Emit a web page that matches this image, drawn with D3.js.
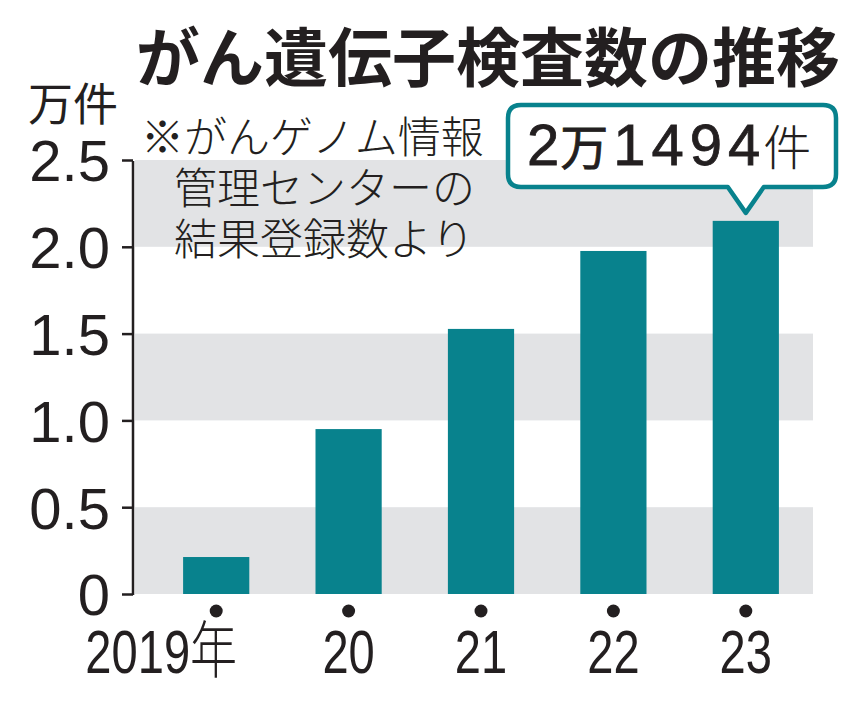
<!DOCTYPE html>
<html>
<head>
<meta charset="utf-8">
<script src="https://cdn.jsdelivr.net/npm/d3@7"></script>
<style>
  body { margin: 0; background: #fff; }
  svg { display: block; }
</style>
</head>
<body>
<div id="chart"></div>
<script>
// data (万件)
var years = ["2019年", "20", "21", "22", "23"];
var counts = [0.213, 0.95, 1.527, 1.976, 2.1494];
var yTicks = [0, 0.5, 1.0, 1.5, 2.0, 2.5];
var yTickLabels = ["0", "0.5", "1.0", "1.5", "2.0", "2.5"];
var noteLines = ["※がんゲノム情報", "管理センターの", "結果登録数より"];

var width = 865;
var height = 702;
var teal = "#08828d";
var band = "#e2e3e5";
var ink = "#231f20";
var jp = "'Noto Sans CJK JP', 'Noto Sans', sans-serif";

var svg = d3.select("#chart")
            .append("svg")
            .attr("width", width)
            .attr("height", height);

var plotLeft = 133, plotRight = 813, plotTop = 160, plotBottom = 594;

var scaleX = d3.scaleBand()
                .domain(years)
                .range([150, 812])
                .paddingInner(0.5)
                .paddingOuter(0.25);

var scaleY = d3.scaleLinear()
                .domain([0, 2.5])
                .range([plotBottom, plotTop]);

// gray bands: 0-0.5, 1.0-1.5, 2.0-2.5
var bands = [[0, 0.5], [1.0, 1.5], [2.0, 2.5]];
svg.append("g")
    .selectAll("rect")
    .data(bands)
    .enter()
    .append("rect")
    .attr("x", plotLeft + 2)
    .attr("width", plotRight - plotLeft - 2)
    .attr("y", (d) => scaleY(d[1]))
    .attr("height", (d) => scaleY(d[0]) - scaleY(d[1]))
    .attr("fill", band);

// bars
svg.append("g")
    .selectAll("rect")
    .data(counts)
    .enter()
    .append("rect")
    .attr("x", (d, i) => scaleX(years[i]))
    .attr("y", (d) => scaleY(d))
    .attr("width", scaleX.bandwidth())
    .attr("height", (d) => plotBottom - scaleY(d))
    .attr("fill", teal);

// y axis
var yaxis = d3.axisLeft(scaleY)
              .tickValues(yTicks)
              .tickFormat((d, i) => yTickLabels[i])
              .tickSizeInner(11)
              .tickSizeOuter(0)
              .tickPadding(12);

var gy = svg.append("g")
            .attr("transform", "translate(" + plotLeft + ",0)")
            .call(yaxis);
gy.select(".domain").attr("stroke", ink).attr("stroke-width", 2.5)
  .attr("d", "M0," + (plotTop + 1) + "V" + (plotBottom + 1));
gy.selectAll(".tick line").attr("stroke", ink).attr("stroke-width", 2.5);
gy.selectAll(".tick text")
  .attr("fill", ink)
  .attr("font-family", "'Liberation Sans', Arial, sans-serif")
  .attr("font-size", 58)
  .attr("dy", "0.36em");

// x labels with dots
var gx = svg.append("g");
gx.selectAll("circle")
  .data(years)
  .enter()
  .append("circle")
  .attr("cx", (d) => scaleX(d) + scaleX.bandwidth() / 2)
  .attr("cy", 611)
  .attr("r", 6.5)
  .attr("fill", ink);

// condensed labels: squeeze horizontally; the first one hangs to the left
gx.selectAll("text")
  .data(years)
  .enter()
  .append("text")
  .attr("transform", function(d, i) {
      var cx = scaleX(d) + scaleX.bandwidth() / 2;
      if (i == 0) cx = cx + 21;
      return "translate(" + cx + ",673) scale(0.76,1)";
  })
  .attr("text-anchor", (d, i) => i == 0 ? "end" : "middle")
  .attr("fill", ink)
  .attr("font-family", "'Liberation Sans', Arial, sans-serif")
  .attr("font-size", 62)
  .each(function(d) {
      var t = d3.select(this);
      var m = d.match(/^(\d+)(.*)$/);
      t.append("tspan").text(m[1]);
      if (m[2]) {
          t.append("tspan").attr("font-family", jp).attr("font-size", 62).attr("font-weight", 300).text(m[2]);
      }
  });

// title
svg.append("text")
    .attr("x", 488)
    .attr("y", 81)
    .attr("text-anchor", "middle")
    .attr("font-family", jp)
    .attr("font-weight", 700)
    .attr("font-size", 64)
    .attr("fill", ink)
    .text("がん遺伝子検査数の推移");

// unit
svg.append("text")
    .attr("x", 28)
    .attr("y", 121)
    .attr("font-family", jp)
    .attr("font-size", 45)
    .attr("fill", ink)
    .text("万件");

// note, one text block
var note = svg.append("text")
    .attr("font-family", jp)
    .attr("font-weight", 300)
    .attr("font-size", 43)
    .attr("fill", ink);
note.selectAll("tspan")
    .data(noteLines)
    .enter()
    .append("tspan")
    .attr("x", (d, i) => i == 0 ? 141 : 174)
    .attr("y", (d, i) => 153 + i * 51)
    .text((d) => d);

// callout
var tipX = scaleX("23") + scaleX.bandwidth() / 2;
var tipY = scaleY(counts[4]) - 8;
var bx0 = 508, bx1 = 836, by0 = 105, by1 = 187, r = 13;
var calloutPath = "M" + (bx0 + r) + "," + by0 +
    "H" + (bx1 - r) + "Q" + bx1 + "," + by0 + " " + bx1 + "," + (by0 + r) +
    "V" + (by1 - r) + "Q" + bx1 + "," + by1 + " " + (bx1 - r) + "," + by1 +
    "H" + (tipX + 18) + "L" + tipX + "," + tipY + "L" + (tipX - 18) + "," + by1 +
    "H" + (bx0 + r) + "Q" + bx0 + "," + by1 + " " + bx0 + "," + (by1 - r) +
    "V" + (by0 + r) + "Q" + bx0 + "," + by0 + " " + (bx0 + r) + "," + by0 + "Z";

svg.append("path")
    .attr("d", calloutPath)
    .attr("fill", "#fff")
    .attr("stroke", teal)
    .attr("stroke-width", 4.5)
    .attr("stroke-linejoin", "round");

var ct = svg.append("text")
    .attr("x", 527)
    .attr("y", 165)
    .attr("fill", ink)
    .attr("font-family", "'Liberation Sans', Arial, sans-serif")
    .attr("font-size", 58)
    .attr("stroke", ink)
    .attr("stroke-width", 0.8);
ct.append("tspan").text("2");
ct.append("tspan").attr("font-family", jp).attr("font-size", 48).attr("dx", 1).text("万");
ct.append("tspan").attr("letter-spacing", 6).attr("dx", 5).text("1494");
ct.append("tspan").attr("font-family", jp).attr("font-weight", 300).attr("font-size", 48).attr("stroke-width", 0).attr("dx", -3).text("件");
</script>
</body>
</html>
